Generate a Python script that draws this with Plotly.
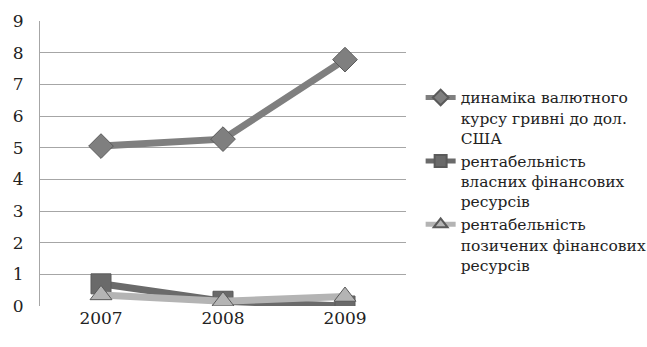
import plotly.graph_objects as go

years = ["2007", "2008", "2009"]
exchange_rate = [5.05, 5.27, 7.78]
own_return = [0.70, 0.15, 0.0]
borrowed_return = [0.35, 0.15, 0.30]

names = [
    "динаміка валютного<br>курсу гривні до дол.<br>США",
    "рентабельність<br>власних фінансових<br>ресурсів",
    "рентабельність<br>позичених фінансових<br>ресурсів",
]

series = [
    (exchange_rate, names[0], "#7f7f7f", "diamond", 19),
    (own_return, names[1], "#6a6a6a", "square", 20),
    (borrowed_return, names[2], "#b4b4b4", "triangle-up", 19),
]

fig = go.Figure()
for ys, name, color, symbol, size in series:
    fig.add_trace(go.Scatter(
        x=years, y=ys, name=name, mode="lines+markers",
        line=dict(color=color, width=7),
        marker=dict(symbol=symbol, size=size, color=color,
                    line=dict(color="#5a5a5a", width=1)),
    ))

font = "'DejaVu Serif', serif"
fig.update_layout(
    width=647, height=347,
    margin=dict(l=40, r=241, t=21, b=41, autoexpand=False),
    paper_bgcolor="white", plot_bgcolor="white",
    font=dict(family=font, size=17, color="#222222"),
    showlegend=True,
    legend=dict(
        x=1.04, y=0.79, xanchor="left", yanchor="top",
        font=dict(family=font, size=15.5, color="#222222"),
        valign="top", tracegroupgap=11, itemwidth=30,
        itemsizing="constant",
        bgcolor="rgba(0,0,0,0)",
    ),
    xaxis=dict(
        type="category", showgrid=False, zeroline=False,
        showline=False, ticks="", tickfont=dict(family=font, size=17),
        range=[-0.5, 2.5],
    ),
    yaxis=dict(
        range=[0, 9], dtick=1, showgrid=True, gridcolor="#a6a6a6",
        gridwidth=1, zeroline=False, showline=True, linecolor="#a6a6a6",
        linewidth=1, ticks="", tickfont=dict(family=font, size=17),
        ticklabelstandoff=12,
    ),
)

fig.write_html("out.html")
